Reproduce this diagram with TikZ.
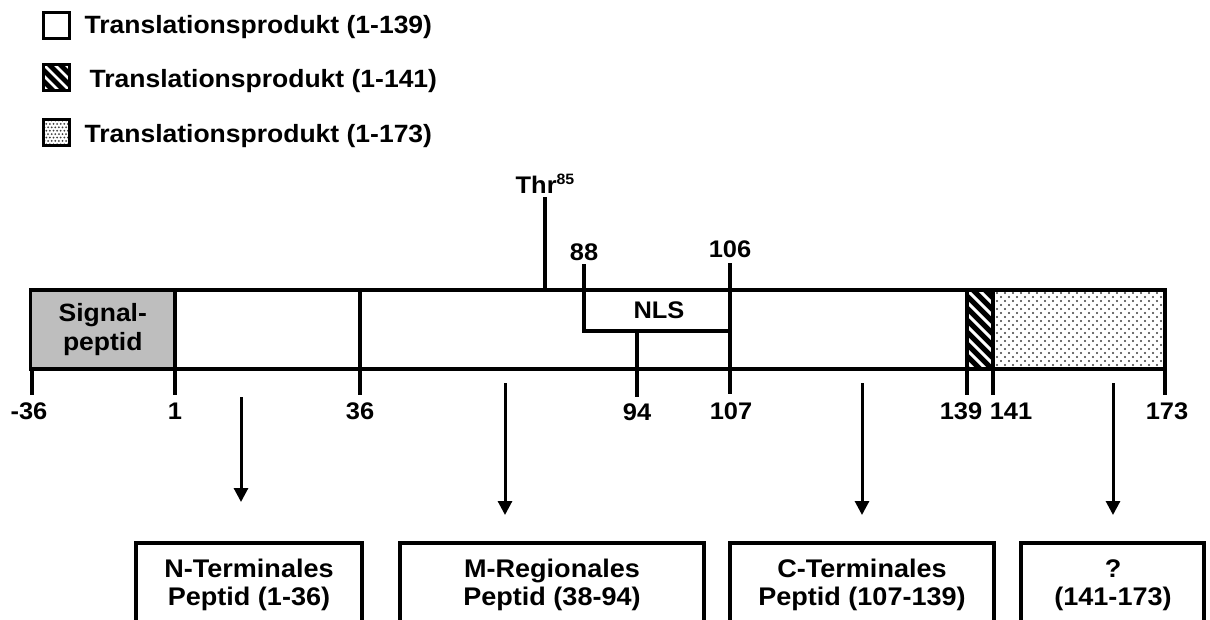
\documentclass[tikz,border=0pt]{standalone}
\usepackage{fontspec}
\setmainfont{Liberation Sans}[FakeStretch=1.06]
\usetikzlibrary{arrows.meta}
\definecolor{sigfill}{RGB}{190,190,190}
\definecolor{dotcol}{RGB}{60,60,60}
\begin{document}
\begin{tikzpicture}[x=1pt,y=-1pt,line width=3.1pt,
  lbl/.style={font=\fontsize{24}{28}\selectfont\bfseries,inner sep=0pt,anchor=base},
  btxt/.style={font=\fontsize{25.5}{30}\selectfont\bfseries,inner sep=0pt,anchor=base},
  legtext/.style={font=\fontsize{25}{29}\selectfont\bfseries,inner sep=0pt,anchor=base west},
  legbox/.style={draw,line width=3pt,minimum size=26pt,inner sep=0pt},
  arr/.style={-{Triangle[width=14pt,length=14pt]},line width=3pt},
  pbox/.style={line width=3.2pt}]
\useasboundingbox (0,0) rectangle (1210,619);

% ---------- legend ----------
\node[legbox,fill=white] (leg1) at (56.5,25) {};
\node[legtext] (t1) at (83,33) {Translationsprodukt (1-139)};

\begin{scope}
  \clip (43,64) rectangle (70,91);
  \fill[black] (43,64) rectangle (70,91);
  \foreach \k in {-2,...,2}
    \draw[white,line width=2.6pt] (43+11*\k-4,60) -- ++(36,36);
\end{scope}
\node[legbox] (leg2) at (56.5,77.5) {};
\node[legtext] (t2) at (88,87) {Translationsprodukt (1-141)};

\begin{scope}
  \clip (43,119) rectangle (70,146);
  \fill[white] (43,119) rectangle (70,146);
  \foreach \i in {0,...,7}
    \foreach \j in {0,...,3}
      {\fill[dotcol] ({44.5+3.6*\i},{120.5+6.8*\j}) circle (1pt);
       \fill[dotcol] ({46.3+3.6*\i},{123.9+6.8*\j}) circle (1pt);}
\end{scope}
\node[legbox] (leg3) at (56.5,132.5) {};
\node[legtext] (t3) at (83,142) {Translationsprodukt (1-173)};

% ---------- main bar fills ----------
\begin{scope}
  \clip (993,290) rectangle (1165,369);
  \foreach \i in {0,...,22}
    \foreach \j in {0,...,10}
      {\fill[dotcol] ({997+8*\i},{293+8*\j}) circle (1.1pt);
       \fill[dotcol] ({1001+8*\i},{297+8*\j}) circle (1.1pt);}
\end{scope}
\begin{scope}
  \clip (967,290) rectangle (993,369);
  \fill[black] (967,290) rectangle (993,369);
  \foreach \k in {-3,...,8}
    \draw[white,line width=3pt] ({967},{290+12*\k}) -- ++(32,32);
\end{scope}

\node[draw,fill=sigfill,line width=3.1pt,minimum width=144.5pt,minimum height=79pt,inner sep=0pt,
      align=center,font=\fontsize{25}{29}\selectfont\bfseries] (sig) at (102.75,329.5) {Signal-\\peptid};

\draw (30.5,290) rectangle (1165,369);
\draw (360,290) -- (360,369);
\draw (967,290) -- (967,369);
\draw (993,290) -- (993,369);

% ---------- Thr85 and NLS ----------
\node[lbl] (thr) at (545,193) {Thr\raisebox{9pt}{\fontsize{15}{15}\selectfont 85}};
\coordinate (thrtop) at (545,197);
\coordinate (thrbot) at (545,290);
\draw (thrtop) -- (thrbot);

\node[lbl] (l88) at (584,260) {88};
\node[lbl] (l106) at (730,257) {106};
\draw (584,264) -- (584,331) -- (730,331);
\draw (730,263) -- (730,394);
\draw (637,331) -- (637,397);
\node[lbl] (nls) at (659,318) {NLS};

% ---------- ticks ----------
\draw (32,369) -- (32,395);
\draw (175,369) -- (175,395);
\draw (360,369) -- (360,395);
\draw (967,369) -- (967,395);
\draw (993,369) -- (993,395);
\draw (1165,369) -- (1165,395);

\node[lbl] (lm36) at (29,419) {-36};
\node[lbl] (l1) at (175,419) {1};
\node[lbl] (l36) at (360,419) {36};
\node[lbl] (l94) at (637,420) {94};
\node[lbl] (l107) at (731,419) {107};
\node[lbl] (l139) at (961,419) {139};
\node[lbl] (l141) at (1011,419) {141};
\node[lbl] (l173) at (1167,419) {173};

% ---------- arrows ----------
\coordinate (a1s) at (241,397); \coordinate (a1e) at (241,502);
\coordinate (a2s) at (505,383); \coordinate (a2e) at (505,515);
\coordinate (a3s) at (862,383); \coordinate (a3e) at (862,515);
\coordinate (a4s) at (1113,383); \coordinate (a4e) at (1113,515);
\draw[arr] (a1s) -- (a1e);
\draw[arr] (a2s) -- (a2e);
\draw[arr] (a3s) -- (a3e);
\draw[arr] (a4s) -- (a4e);

% ---------- result boxes ----------
\draw[pbox] (136,622) -- (136,543) -- (362,543) -- (362,622);
\draw[pbox] (400,622) -- (400,543) -- (704,543) -- (704,622);
\draw[pbox] (730,622) -- (730,543) -- (994,543) -- (994,622);
\draw[pbox] (1021,622) -- (1021,543) -- (1204,543) -- (1204,622);

\node[btxt] (bN1) at (249,577) {N-Terminales};
\node[btxt] (bN2) at (249,605) {Peptid (1-36)};
\node[btxt] (bM1) at (552,577) {M-Regionales};
\node[btxt] (bM2) at (552,605) {Peptid (38-94)};
\node[btxt] (bC1) at (862,577) {C-Terminales};
\node[btxt] (bC2) at (862,605) {Peptid (107-139)};
\node[btxt] (bQ1) at (1113,577) {?};
\node[btxt] (bQ2) at (1113,605) {(141-173)};
\end{tikzpicture}
\end{document}
